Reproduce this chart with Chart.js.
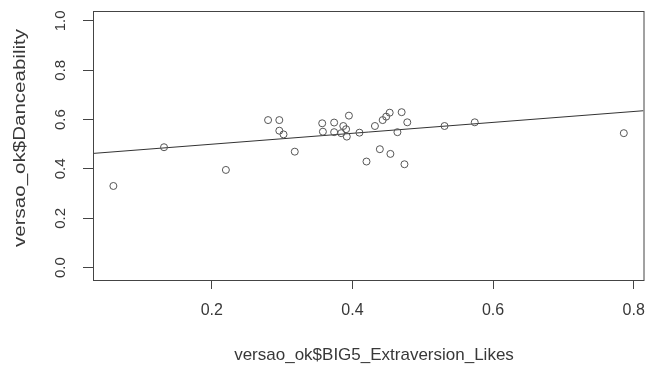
<!DOCTYPE html>
<html>
<head>
<meta charset="utf-8">
<script src="https://cdn.jsdelivr.net/npm/chart.js@4"></script>
<style>
  html, body { margin: 0; padding: 0; background: #fff; }
  #wrap { width: 648px; height: 369px; }
</style>
</head>
<body>
<div id="wrap"><canvas id="scatter"></canvas></div>
<script>
// values
const extraversion = [0.060, 0.132, 0.220, 0.280, 0.296, 0.296, 0.302, 0.318, 0.357, 0.358,
    0.374, 0.374, 0.387, 0.391, 0.384, 0.392, 0.395, 0.410, 0.420, 0.432,
    0.439, 0.443, 0.448, 0.453, 0.454, 0.464, 0.470, 0.474, 0.478, 0.531,
    0.574, 0.786];
const danceability = [0.331, 0.488, 0.396, 0.598, 0.598, 0.555, 0.540, 0.470, 0.585, 0.551,
    0.588, 0.549, 0.574, 0.561, 0.545, 0.531, 0.616, 0.547, 0.430, 0.574,
    0.480, 0.598, 0.612, 0.628, 0.461, 0.549, 0.630, 0.419, 0.589, 0.574,
    0.589, 0.545];
// fitted line (intercept, slope)
const lineCoef = [0.456, 0.221];
const xTicks = [0.2, 0.4, 0.6, 0.8];
const yTicks = [0.0, 0.2, 0.4, 0.6, 0.8, 1.0];
const xRange = [0.031, 0.814];
const yRange = [-0.05, 1.04];
const xTitle = 'versao_ok$BIG5_Extraversion_Likes';
const yTitle = 'versao_ok$Danceability';

const FONT = '"Liberation Sans", Arial, sans-serif';
const TEXT = '#383838';
const INK = '#444';

/**
 * Box around the plot region, rotated y labels and axis titles (R base style)
 */
const rFrame = {
    id: 'rFrame',
    afterDraw(chart) {
        const { ctx, chartArea: a, scales } = chart;
        ctx.save();
        ctx.strokeStyle = INK;
        ctx.lineWidth = 1;
        ctx.strokeRect(a.left + 0.5, a.top + 0.5, a.right - a.left, a.bottom - a.top);

        ctx.fillStyle = TEXT;
        ctx.font = '15px ' + FONT;
        ctx.textAlign = 'center';
        ctx.textBaseline = 'middle';
        scales.y.ticks.forEach(t => {
            const py = scales.y.getPixelForValue(t.value);
            ctx.save();
            ctx.translate(61, py);
            ctx.rotate(-Math.PI / 2);
            ctx.fillText(t.value.toFixed(1), 0, 0);
            ctx.restore();
        });

        // axis titles (the y title is drawn a bit stretched, as in the source image)
        ctx.font = '16px ' + FONT;
        ctx.save();
        ctx.translate(21, 138);
        ctx.rotate(-Math.PI / 2);
        ctx.scale(218 / ctx.measureText(yTitle).width, 1);
        ctx.fillText(yTitle, 0, 0);
        ctx.restore();

        ctx.font = '17px ' + FONT;
        ctx.fillText(xTitle, 374, 355);
        ctx.restore();
    }
};

const points = extraversion.map((x, i) => ({ x, y: danceability[i] }));
const fitLine = xRange.map(x => ({ x, y: lineCoef[0] + lineCoef[1] * x }));

new Chart(document.getElementById('scatter'), {
    type: 'scatter',
    data: {
        datasets: [
            {
                data: points,
                pointStyle: 'circle',
                pointRadius: 3.5,
                pointHoverRadius: 3.5,
                borderWidth: 1,
                borderColor: '#555',
                backgroundColor: 'rgba(0,0,0,0)'
            },
            {
                type: 'line',
                data: fitLine,
                borderColor: '#333',
                borderWidth: 1,
                pointRadius: 0,
                fill: false
            }
        ]
    },
    options: {
        responsive: true,
        maintainAspectRatio: false,
        animation: false,
        layout: { padding: { top: 11, right: 3, left: 0, bottom: 0 } },
        plugins: {
            legend: { display: false },
            tooltip: { enabled: false }
        },
        scales: {
            x: {
                type: 'linear',
                min: xRange[0],
                max: xRange[1],
                afterBuildTicks: s => { s.ticks = xTicks.map(v => ({ value: v })); },
                afterFit: s => {
                    s.height = 89;
                    s.paddingLeft = 0;
                    s.paddingRight = 0;
                },
                border: { display: false },
                grid: { drawOnChartArea: false, drawTicks: true, tickLength: 9, color: INK },
                ticks: {
                    color: TEXT,
                    font: { family: FONT, size: 16 },
                    padding: 12,
                    maxRotation: 0,
                    callback: v => v.toFixed(1)
                }
            },
            y: {
                type: 'linear',
                min: yRange[0],
                max: yRange[1],
                afterBuildTicks: s => { s.ticks = yTicks.map(v => ({ value: v })); },
                afterFit: s => {
                    s.width = 93;
                    s.paddingTop = 0;
                    s.paddingBottom = 0;
                },
                border: { display: false },
                grid: { drawOnChartArea: false, drawTicks: true, tickLength: 10, color: INK },
                ticks: { display: false }
            }
        }
    },
    plugins: [rFrame]
});
</script>
</body>
</html>
